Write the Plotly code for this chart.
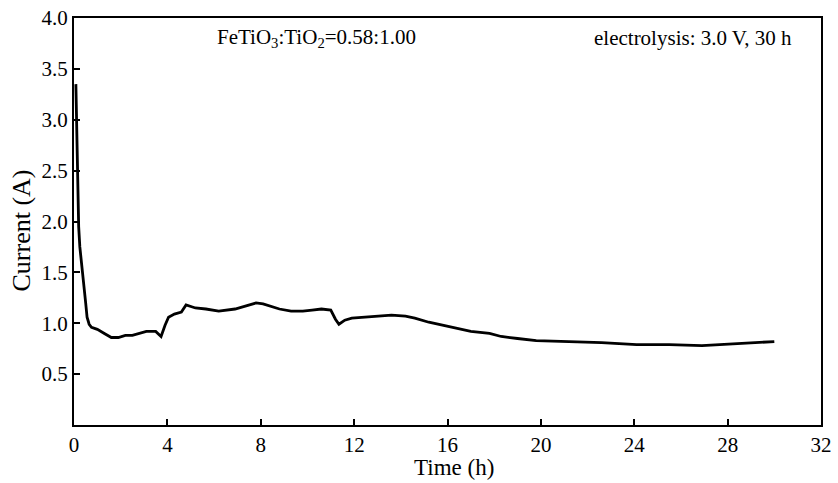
import plotly.graph_objects as go

time_h = [0.08, 0.12, 0.16, 0.20, 0.25, 0.35, 0.43, 0.50, 0.56, 0.65, 0.75, 1.0, 1.3, 1.6, 1.9,
          2.2, 2.5, 2.8, 3.1, 3.5, 3.73, 3.9, 4.05, 4.3, 4.6, 4.8, 5.2, 5.65, 6.2, 6.9, 7.4,
          7.8, 8.1, 8.5, 8.8, 9.3, 9.8, 10.2, 10.6, 11.0, 11.2, 11.35, 11.6, 11.9, 12.4, 12.8,
          13.6, 14.2, 14.6, 15.2, 15.8, 16.4, 17.0, 17.8, 18.3, 19.0, 19.8, 21.2, 22.6, 24.1,
          25.5, 26.9, 28.4, 29.2, 30.0]
current_a = [3.35, 2.90, 2.30, 1.95, 1.75, 1.50, 1.32, 1.20, 1.06, 0.99, 0.96, 0.94, 0.90, 0.86, 0.86,
             0.88, 0.88, 0.90, 0.92, 0.92, 0.87, 0.98, 1.06, 1.09, 1.11, 1.18, 1.15, 1.14, 1.12, 1.14, 1.17,
             1.20, 1.19, 1.16, 1.14, 1.12, 1.12, 1.13, 1.14, 1.13, 1.04, 0.99, 1.03, 1.05, 1.06, 1.07,
             1.08, 1.07, 1.05, 1.01, 0.98, 0.95, 0.92, 0.90, 0.87, 0.85, 0.83, 0.82, 0.81, 0.79,
             0.79, 0.78, 0.80, 0.81, 0.82]

x_ticks = [0, 4, 8, 12, 16, 20, 24, 28, 32]
y_ticks = [0.5, 1.0, 1.5, 2.0, 2.5, 3.0, 3.5, 4.0]

FONT = "Liberation Serif"

fig = go.Figure()
fig.add_trace(go.Scatter(x=time_h, y=current_a, mode="lines",
                         line=dict(color="black", width=2.8), showlegend=False))

axis_common = dict(showline=True, linecolor="black", linewidth=2, mirror=True,
                   ticks="inside", ticklen=6, tickwidth=1.5, tickcolor="black",
                   showgrid=False, zeroline=False, automargin=False,
                   tickfont=dict(family=FONT, size=21, color="black"))

fig.update_xaxes(range=[0, 32], tickvals=x_ticks, ticktext=[str(v) for v in x_ticks],
                 **axis_common)
fig.update_yaxes(range=[0, 4.0], tickvals=y_ticks, ticktext=[f"{v:.1f}" for v in y_ticks],
                 **axis_common)

fig.add_annotation(text="FeTiO<sub>3</sub>:TiO<sub>2</sub>=0.58:1.00", x=10.37, y=3.80,
                   xref="x", yref="y", showarrow=False, xanchor="center", yanchor="middle",
                   font=dict(family=FONT, size=21, color="black"))
fig.add_annotation(text="electrolysis: 3.0 V, 30 h", x=26.5, y=3.80,
                   xref="x", yref="y", showarrow=False, xanchor="center", yanchor="middle",
                   font=dict(family=FONT, size=21, color="black"))
fig.add_annotation(text="Current (A)", x=0, y=0.5, xref="paper", yref="paper",
                   xshift=-53, yshift=-9, textangle=-90, showarrow=False,
                   xanchor="center", yanchor="middle",
                   font=dict(family=FONT, size=26, color="black"))
fig.add_annotation(text="Time (h)", x=0.5, y=0, xref="paper", yref="paper",
                   xshift=6, yshift=-42, showarrow=False, xanchor="center", yanchor="middle",
                   font=dict(family=FONT, size=23, color="black"))

fig.update_layout(width=838, height=483, margin=dict(l=74, r=17, t=18, b=58),
                  paper_bgcolor="white", plot_bgcolor="white")

fig.write_html("out.html", config={"displayModeBar": False},
               post_script="document.body.style.margin='0';document.body.style.overflow='hidden';")
